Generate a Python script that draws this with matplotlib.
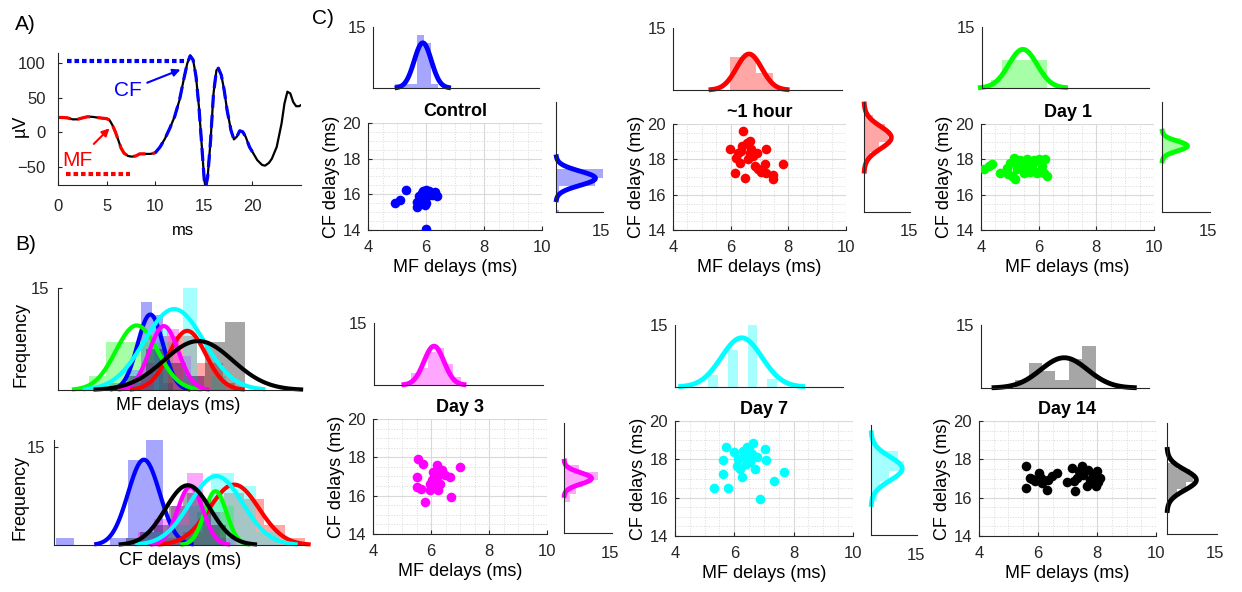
import numpy as np
import matplotlib
matplotlib.use('Agg')
import matplotlib.pyplot as plt
from matplotlib.ticker import MultipleLocator

plt.rcParams['font.family'] = ['Liberation Sans', 'DejaVu Sans']
plt.rcParams['font.size'] = 12
plt.rcParams['axes.linewidth'] = 0.8
plt.rcParams['axes.edgecolor'] = '#262626'
plt.rcParams['xtick.color'] = '#262626'
plt.rcParams['ytick.color'] = '#262626'

# ---------------- data ----------------
groups = ['Control', '~1 hour', 'Day 1', 'Day 3', 'Day 7', 'Day 14']

# panel A: field potential trace (ms, uV)
trace_t = [0.0, 0.5, 1.0, 1.5, 2.0, 2.5, 3.0, 3.5, 4.0, 4.5, 5.0, 5.3, 5.6, 5.9, 6.2,
           6.5, 6.8, 7.2, 7.6, 8.0, 8.4, 9.0, 9.5, 10.0, 10.5, 11.0, 11.5, 12.0, 12.5,
           13.0, 13.3, 13.6, 13.9, 14.2, 14.5, 14.8, 15.05, 15.2, 15.4, 15.7, 16.0,
           16.3, 16.5, 16.8, 17.1, 17.4, 17.8, 18.1, 18.4, 18.7, 19.0, 19.3, 19.7,
           20.0, 20.5, 21.0, 21.3, 21.7, 22.0, 22.5, 23.0, 23.3, 23.6, 23.9, 24.2,
           24.5, 24.8, 25.0]
trace_uv = [21.7, 21.7, 21.0, 19.0, 19.0, 21.0, 22.7, 22.7, 21.7, 20.8, 20.0, 18.0, 10.6,
            1.0, -11.0, -23.0, -30.0, -34.0, -35.0, -34.0, -31.0, -31.0, -31.0, -29.5,
            -21.0, -9.0, 6.0, 23.0, 47.0, 81.0, 100.0, 111.0, 105.0, 81.0, 37.0, -21.0,
            -69.0, -79.0, -64.0, -11.0, 56.5, 90.0, 93.0, 83.0, 61.0, 32.0, 3.0, -10.0,
            -6.0, 2.4, 1.0, -6.0, -21.0, -28.0, -40.0, -47.0, -48.0, -44.0, -38.0, -21.0,
            13.0, 42.0, 59.0, 56.5, 44.0, 38.0, 38.0, 39.6]
mf_window = [0.8, 7.4]
mf_level = -60
cf_window = [0.9, 13.0]
cf_level = 103
mf_segment = [0.0, 10.0]
cf_segment = [10.0, 20.2]

# panel C: scatter points (MF delay, CF delay) per group
ctrl_mf = [4.92, 5.12, 5.32, 5.68, 5.75, 5.80, 5.85, 5.90, 5.95, 6.00, 6.00, 6.05,
           6.10, 6.20, 6.30, 6.38, 5.75, 5.95, 6.00, 6.12, 5.85, 6.25, 5.70, 6.15]
ctrl_cf = [15.50, 15.70, 16.25, 15.30, 15.90, 15.60, 16.05, 16.20, 15.85, 16.25, 15.50,
           15.90, 16.10, 15.95, 16.15, 15.90, 15.70, 15.40, 14.05, 16.20, 15.80, 16.05,
           15.55, 16.00]
hour_mf = [5.97, 6.14, 6.32, 6.43, 6.38, 6.55, 6.66, 6.49, 6.66, 6.78, 6.90, 6.84, 6.95,
           7.24, 7.19, 7.24, 7.48, 7.48, 7.82, 6.26, 6.60, 6.20, 6.70, 7.05, 6.35]
hour_cf = [18.57, 17.24, 17.81, 19.62, 18.76, 18.95, 19.05, 16.95, 18.38, 18.19, 18.38,
           17.62, 17.43, 18.57, 17.71, 17.24, 17.14, 16.86, 17.71, 18.38, 18.00, 18.10,
           18.60, 17.30, 18.45]
day1_mf = [4.09, 4.27, 4.38, 4.67, 4.90, 5.02, 5.07, 5.13, 5.25, 5.30, 5.42, 5.48, 5.59,
           5.65, 5.77, 5.82, 5.94, 6.00, 6.11, 6.23, 6.28, 6.17, 5.19, 5.55, 5.85, 5.35,
           5.70, 6.05, 4.95, 5.60]
day1_cf = [17.43, 17.62, 17.71, 17.24, 17.52, 17.81, 17.05, 18.05, 17.43, 17.81, 17.62,
           17.24, 18.04, 17.62, 17.43, 17.81, 17.24, 18.04, 17.62, 18.04, 17.05, 17.24,
           16.86, 17.40, 17.95, 17.95, 17.30, 17.35, 17.15, 17.80]
day3_mf = [5.56, 5.73, 5.50, 5.50, 5.79, 5.96, 6.02, 6.08, 6.19, 6.25, 6.31, 6.37, 6.13,
           6.65, 6.68, 7.00, 6.48, 5.96, 5.67, 6.25, 6.10, 6.20]
day3_cf = [17.92, 17.66, 16.97, 16.45, 15.67, 16.28, 16.80, 17.23, 17.58, 17.06, 16.63,
           17.32, 16.54, 16.97, 15.93, 17.49, 17.06, 16.63, 16.37, 16.28, 16.95, 16.75]
day7_mf = [5.32, 5.80, 5.61, 5.63, 5.71, 5.99, 6.14, 6.20, 6.25, 6.36, 6.44, 6.53, 6.62,
           6.59, 6.70, 6.76, 6.87, 7.04, 7.08, 7.35, 7.66, 6.10, 6.30, 6.48, 6.40]
day7_cf = [16.51, 16.51, 17.22, 17.98, 18.63, 18.36, 18.01, 17.52, 17.10, 18.19, 18.63,
           17.84, 18.86, 18.28, 17.50, 18.10, 15.93, 18.54, 17.98, 16.87, 17.34, 17.66,
           18.45, 18.55, 17.75]
day14_mf = [5.61, 5.59, 5.72, 5.89, 6.04, 6.15, 6.29, 6.35, 6.49, 6.63, 6.97, 7.14, 7.22,
            7.25, 7.31, 7.48, 7.54, 7.65, 7.76, 7.88, 8.00, 8.05, 8.10, 7.70, 5.80, 6.10,
            7.40, 7.95]
day14_cf = [17.64, 16.50, 17.03, 16.85, 17.29, 16.76, 16.38, 16.94, 17.12, 17.29, 16.80,
            17.55, 16.85, 16.33, 17.03, 17.64, 17.20, 16.59, 16.94, 17.20, 17.38, 16.80,
            17.03, 17.45, 16.95, 17.05, 17.40, 16.60]

# histogram bins (edges) and counts
ctrl_mf_edges = [4.80, 5.06, 5.32, 5.58, 5.84, 6.10, 6.36]
ctrl_mf_counts = [1, 1, 1, 13, 11, 1]
hour_mf_edges = [5.71, 6.02, 6.33, 6.63, 6.94, 7.25, 7.56, 7.87]
hour_mf_counts = [0, 8, 8, 8, 4, 4, 1]
day1_mf_edges = [4.31, 4.72, 5.13, 5.53, 5.94, 6.35]
day1_mf_counts = [2, 7, 7, 7, 7]
day3_mf_edges = [5.3, 5.6, 5.9, 6.2, 6.5, 6.8, 7.1]
day3_mf_counts = [3, 4, 8, 9, 5, 2]
day7_mf_edges = [5.19, 5.54, 5.89, 6.24, 6.59, 6.94, 7.29, 7.64]
day7_mf_counts = [3, 0, 9, 0, 15, 0, 2]
day14_mf_edges = [5.22, 5.70, 6.18, 6.66, 7.14, 7.62, 8.10]
day14_mf_counts = [2, 6, 4, 2, 7, 10]

ctrl_cf_edges = [13.68, 14.12, 14.56, 15.00, 15.44, 15.88, 16.32]
ctrl_cf_counts = [1, 0, 0, 1, 13, 16]
hour_cf_edges = [16.3, 16.8, 17.3, 17.8, 18.3, 18.8, 19.3, 19.8]
hour_cf_counts = [1, 2, 5, 8, 7, 3, 1]
day1_cf_edges = [16.85, 17.15, 17.45, 17.75, 18.05]
day1_cf_counts = [2, 5, 7, 6]
day3_cf_edges = [15.7, 16.1, 16.5, 16.9, 17.3, 17.7, 18.1]
day3_cf_counts = [2, 4, 6, 11, 5, 1]
day7_cf_edges = [15.85, 16.4, 16.95, 17.5, 18.05, 18.6, 19.15]
day7_cf_counts = [2, 3, 6, 11, 9, 2]
day14_cf_edges = [15.4, 15.75, 16.1, 16.45, 16.8, 17.15, 17.5, 17.85]
day14_cf_counts = [1, 2, 3, 6, 8, 7, 3]

# normal fits (mean, sd, peak height in counts)
mf_mean = [5.80, 6.70, 5.47, 6.13, 6.38, 6.97]
mf_sd = [0.31, 0.45, 0.51, 0.355, 0.725, 0.835]
mf_peak = [11.1, 8.7, 9.5, 9.4, 11.9, 7.2]
cf_mean = [15.84, 18.06, 17.60, 16.98, 17.62, 16.92]
cf_sd = [0.39, 0.61, 0.27, 0.31, 0.65, 0.55]
cf_peak = [13.0, 9.2, 8.2, 8.9, 10.5, 9.1]

mf_points = [ctrl_mf, hour_mf, day1_mf, day3_mf, day7_mf, day14_mf]
cf_points = [ctrl_cf, hour_cf, day1_cf, day3_cf, day7_cf, day14_cf]
mf_edges = [ctrl_mf_edges, hour_mf_edges, day1_mf_edges, day3_mf_edges, day7_mf_edges, day14_mf_edges]
mf_counts = [ctrl_mf_counts, hour_mf_counts, day1_mf_counts, day3_mf_counts, day7_mf_counts, day14_mf_counts]
cf_edges = [ctrl_cf_edges, hour_cf_edges, day1_cf_edges, day3_cf_edges, day7_cf_edges, day14_cf_edges]
cf_counts = [ctrl_cf_counts, hour_cf_counts, day1_cf_counts, day3_cf_counts, day7_cf_counts, day14_cf_counts]

colors = ['#0000ff', '#ff0000', '#00ff00', '#ff00ff', '#00ffff', '#000000']

# ---------------- layout (pixels) ----------------
W, H = 1242, 592


def rect(l, t, r, b):
    return [l / W, 1 - b / H, (r - l) / W, (b - t) / H]


def fit_curve(mu, sd, peak):
    x = np.linspace(mu - 3 * sd, mu + 3 * sd, 120)
    return x, peak * np.exp(-0.5 * ((x - mu) / sd) ** 2)


def bars(ax, edges, counts, color, horizontal=False):
    edges = np.asarray(edges)
    if horizontal:
        ax.barh(edges[:-1], counts, height=np.diff(edges), align='edge',
                color=color, alpha=0.35, lw=0)
    else:
        ax.bar(edges[:-1], counts, width=np.diff(edges), align='edge',
               color=color, alpha=0.35, lw=0)


def clean(ax):
    ax.spines['top'].set_visible(False)
    ax.spines['right'].set_visible(False)


fig = plt.figure(figsize=(W / 100, H / 100), dpi=100)

# ---------------- A ----------------
axA = fig.add_axes(rect(58, 53, 301, 185))
clean(axA)
t = np.asarray(trace_t)
v = np.asarray(trace_uv)
axA.plot(t, v, color='k', lw=1.6)
m = (t >= mf_segment[0]) & (t <= mf_segment[1])
axA.plot(t[m], v[m], color='#ff0000', lw=2.3, ls=(0, (4, 2.2)))
c = (t >= cf_segment[0]) & (t <= cf_segment[1])
axA.plot(t[c], v[c], color='#0000ff', lw=2.3, ls=(0, (4, 2.2)))
axA.plot(mf_window, [mf_level, mf_level], color='#ff0000', lw=3, ls=(0, (1.1, 0.7)))
axA.plot(cf_window, [cf_level, cf_level], color='#0000ff', lw=3, ls=(0, (1.1, 0.7)))
axA.set_xlim(0, 25)
axA.set_ylim(-76, 115)
axA.set_xticks([0, 5, 10, 15, 20])
axA.set_yticks([-50, 0, 50, 100])
axA.tick_params(direction='in', length=3, labelsize=12)
axA.tick_params(axis='x', pad=10)
axA.tick_params(axis='y', pad=9)
axA.set_xlabel('ms', fontsize=12)
axA.xaxis.set_label_coords(0.515, -0.29)
axA.set_ylabel('µV', fontsize=13)
axA.yaxis.set_label_coords(-0.12, 0.45)
axA.annotate('CF', xy=(12.6, 91), xytext=(7.2, 61), color='#0000ff', fontsize=15,
             ha='center', va='center',
             arrowprops=dict(arrowstyle='-|>', color='#0000ff', lw=1.5,
                             mutation_scale=11, shrinkA=2, shrinkB=0))
axA.annotate('MF', xy=(5.3, 6), xytext=(2.0, -40), color='#ff0000', fontsize=15,
             ha='center', va='center',
             arrowprops=dict(arrowstyle='-|>', color='#ff0000', lw=1.5,
                             mutation_scale=11, shrinkA=4, shrinkB=0))

# ---------------- B ----------------
axB1 = fig.add_axes(rect(58, 288, 298, 390))
axB2 = fig.add_axes(rect(54, 440, 307, 545))
for i in range(6):
    bars(axB1, mf_edges[i], mf_counts[i], colors[i])
    bars(axB2, cf_edges[i], cf_counts[i], colors[i])
for i in range(6):
    x, y = fit_curve(mf_mean[i], mf_sd[i], mf_peak[i])
    axB1.plot(x, y, color=colors[i], lw=3, clip_on=False)
    x, y = fit_curve(cf_mean[i], cf_sd[i], cf_peak[i])
    axB2.plot(x, y, color=colors[i], lw=3, clip_on=False)
for ax, xl, yl, lab, lx in [(axB1, (3.55, 9.4), (0, 15), 'MF delays (ms)', -0.12),
                            (axB2, (13.63, 19.85), (0, 16), 'CF delays (ms)', -0.10)]:
    clean(ax)
    ax.set_xlim(*xl)
    ax.set_ylim(*yl)
    ax.set_xticks([])
    ax.set_yticks([15])
    ax.tick_params(axis='y', direction='in', length=3, labelsize=12, pad=6)
    ax.set_xlabel(lab, fontsize=13, labelpad=5)
    ax.set_ylabel('Frequency', fontsize=13)
    ax.yaxis.set_label_coords(lx, 0.45)

# ---------------- C ----------------
scatter_rects = [(368, 123, 542, 230), (673, 124, 846, 230), (981, 124, 1154, 230),
                 (373, 419, 547, 534), (675, 421, 853, 536), (979, 421, 1156, 536)]
top_rects = [(373, 27, 539, 88), (673, 28, 842, 90), (982, 27, 1149, 88),
             (374, 323, 543, 385), (675, 325, 843, 387), (981, 325, 1149, 388)]
side_rects = [(556, 102, 603, 212), (864, 102, 910, 212), (1162, 102, 1210, 212),
              (564, 423, 612, 533), (871, 425, 917, 535), (1167, 423, 1217, 534)]

for i in range(6):
    col = colors[i]
    # scatter
    ax = fig.add_axes(rect(*scatter_rects[i]))
    clean(ax)
    ax.scatter(mf_points[i], cf_points[i], s=48, color=col, lw=0, zorder=3)
    ax.set_xlim(4, 10)
    ax.set_ylim(14, 20)
    ax.set_xticks([4, 6, 8, 10])
    ax.set_yticks([14, 16, 18, 20])
    ax.xaxis.set_minor_locator(MultipleLocator(0.5))
    ax.yaxis.set_minor_locator(MultipleLocator(0.5))
    ax.grid(True, which='major', color='#d9d9d9', lw=0.8)
    ax.grid(True, which='minor', color='#d9d9d9', lw=0.7, ls=':')
    ax.set_axisbelow(True)
    ax.tick_params(which='major', direction='in', length=3, labelsize=12)
    ax.tick_params(which='minor', length=0)
    ax.tick_params(axis='x', pad=7)
    ax.tick_params(axis='y', pad=5)
    ax.set_title(groups[i], fontweight='bold', fontsize=13, pad=5)
    ax.set_xlabel('MF delays (ms)', fontsize=13, labelpad=3)
    ax.set_ylabel('CF delays (ms)', fontsize=13, labelpad=2)

    # top marginal (MF)
    ax = fig.add_axes(rect(*top_rects[i]))
    clean(ax)
    bars(ax, mf_edges[i], mf_counts[i], col)
    x, y = fit_curve(mf_mean[i], mf_sd[i], mf_peak[i])
    ax.plot(x, y, color=col, lw=3.5, clip_on=False)
    ax.set_xlim(4, 10)
    ax.set_ylim(0, 15)
    ax.set_xticks([])
    ax.set_yticks([15])
    ax.tick_params(axis='y', direction='in', length=0, labelsize=12, pad=5)

    # side marginal (CF)
    ax = fig.add_axes(rect(*side_rects[i]))
    clean(ax)
    bars(ax, cf_edges[i], cf_counts[i], col, horizontal=True)
    y, x = fit_curve(cf_mean[i], cf_sd[i], cf_peak[i])
    ax.plot(x, y, color=col, lw=3.5, clip_on=False)
    ax.set_ylim(14, 20)
    ax.set_xlim(0, 15.5)
    ax.set_yticks([])
    ax.set_xticks([15])
    ax.tick_params(axis='x', direction='in', length=0, labelsize=12, pad=9)

# panel letters
fig.text(15 / W, 1 - 25 / H, 'A)', fontsize=15, va='center')
fig.text(15 / W, 1 - 245 / H, 'B)', fontsize=15, va='center')
fig.text(312 / W, 1 - 18 / H, 'C)', fontsize=15, va='center')

fig.savefig('out.png', dpi=100)
